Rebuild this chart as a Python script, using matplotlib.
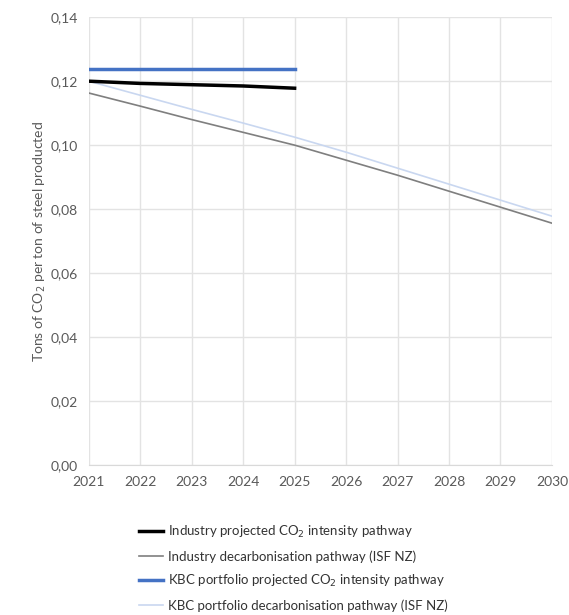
import matplotlib.pyplot as plt
import numpy as np

plt.rcParams["font.family"] = ["Lato", "DejaVu Sans"]

years = [2021, 2022, 2023, 2024, 2025, 2026, 2027, 2028, 2029, 2030]
proj_years = [2021, 2022, 2023, 2024, 2025]

industry_projected = [0.1200, 0.1193, 0.1189, 0.1185, 0.1178]
industry_pathway = [0.1163, 0.1122, 0.1080, 0.1040, 0.1000, 0.0953, 0.0906, 0.0856, 0.0806, 0.0756]
kbc_projected = [0.1238, 0.1238, 0.1238, 0.1238, 0.1238]
kbc_pathway = [0.1200, 0.1156, 0.1112, 0.1069, 0.1025, 0.0978, 0.0928, 0.0878, 0.0828, 0.0778]

labels = [
    "Industry projected CO$_2$ intensity pathway",
    "Industry decarbonisation pathway (ISF NZ)",
    "KBC portfolio projected CO$_2$ intensity pathway",
    "KBC portfolio decarbonisation pathway (ISF NZ)",
]

text_color = "#595959"
fig = plt.figure(figsize=(5.69, 6.15), dpi=100)
ax = fig.add_axes([0.156, 0.244, 0.814, 0.728])

l2, = ax.plot(years, industry_pathway, color="#7f7f7f", lw=1.2, zorder=3)
l4, = ax.plot(years, kbc_pathway, color="#c9d7f0", lw=1.2, zorder=2)
l1, = ax.plot(proj_years, industry_projected, color="black", lw=2.5, zorder=4)
l3, = ax.plot(proj_years, kbc_projected, color="#4472c4", lw=2.5, zorder=4)

ax.set_xlim(2021, 2030)
ax.set_ylim(0, 0.14)
ax.set_xticks(years)
ax.set_yticks(np.arange(0, 0.141, 0.02))
ax.set_yticklabels([f"{v:.2f}".replace(".", ",") for v in np.arange(0, 0.141, 0.02)])
ax.grid(True, color="#e3e3e3", lw=1)
ax.set_axisbelow(True)
for s in ax.spines.values():
    s.set_visible(False)
ax.spines["bottom"].set_visible(True)
ax.spines["bottom"].set_color("#d9d9d9")
ax.tick_params(length=0, colors=text_color, labelsize=10, pad=8)
ax.set_ylabel("Tons of CO$_2$ per ton of steel producted", color=text_color, fontsize=10, labelpad=2)

fig.legend([l1, l2, l3, l4], labels, loc="upper left", bbox_to_anchor=(0.235, 0.157),
           frameon=False, fontsize=9.5, labelcolor="#333333", handlelength=1.8,
           handletextpad=0.4, labelspacing=0.78, borderaxespad=0)

fig.savefig("out.png", dpi=100)
